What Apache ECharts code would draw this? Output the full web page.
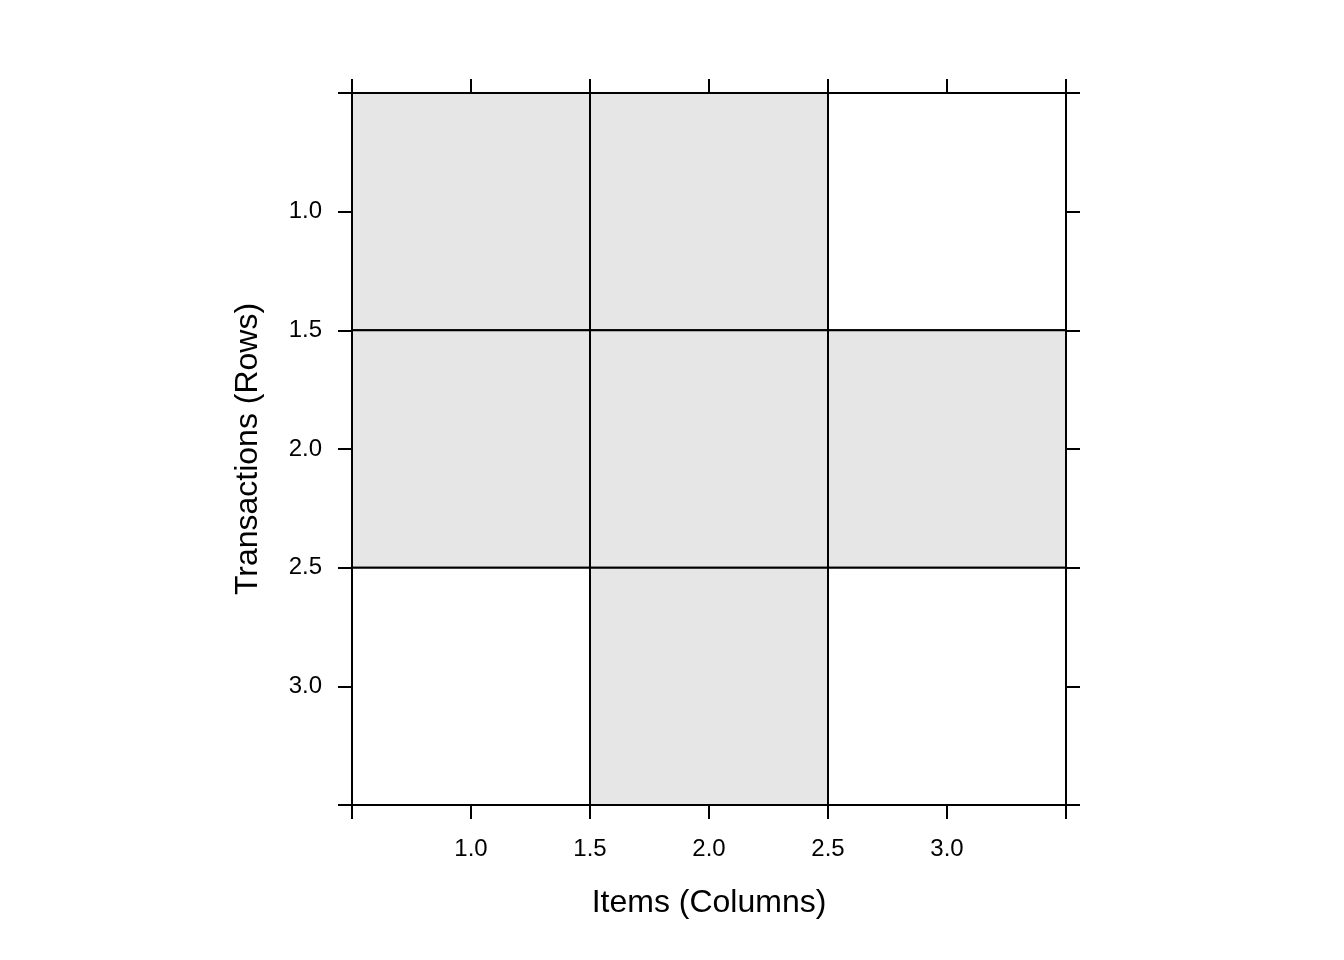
<!DOCTYPE html>
<html>
<head>
<meta charset="utf-8">
<script src="https://cdn.jsdelivr.net/npm/echarts@6/dist/echarts.min.js"></script>
<style>html,body{margin:0;padding:0;background:#fff}#c{width:1344px;height:960px}</style>
</head>
<body>
<div id="c"></div>
<script>
// Data
const items = [1, 2, 3];          // columns
const transactions = [1, 2, 3];   // rows
const matrix = [
  [1, 1, 0],
  [1, 1, 1],
  [0, 1, 0]
];
const tickLabels = ['1.0', '1.5', '2.0', '2.5', '3.0'];
const xTitle = 'Items (Columns)';
const yTitle = 'Transactions (Rows)';

const cells = [];
transactions.forEach((r, i) => {
  items.forEach((c, j) => {
    cells.push([c, r, matrix[i][j]]);
  });
});

const FONT = 'Liberation Sans, Arial, sans-serif';
const fmt = v => {
  const s = Number(v).toFixed(1);
  return tickLabels.indexOf(s) >= 0 ? s : '';
};
const lineStyle = { color: '#000', width: 2 };
function axis(extra) {
  return Object.assign({
    type: 'value', min: 0.5, max: 3.5, interval: 0.5,
    axisLine: { show: true, onZero: false, lineStyle },
    axisTick: { show: true, inside: false, length: 14, lineStyle },
    splitLine: { show: false },
    axisLabel: { show: false }
  }, extra);
}

const chart = echarts.init(document.getElementById('c'), null, { renderer: 'canvas' });
chart.setOption({
  backgroundColor: '#fff',
  animation: false,
  grid: { left: 352, right: 278, top: 93, bottom: 155, containLabel: false },
  xAxis: [
    axis({
      position: 'bottom',
      name: xTitle, nameLocation: 'middle', nameGap: 82,
      nameTextStyle: { color: '#000', fontSize: 32, fontFamily: FONT },
      axisLabel: { show: true, formatter: fmt, margin: 32, color: '#000', fontSize: 24, fontFamily: FONT }
    }),
    axis({ position: 'top' })
  ],
  yAxis: [
    axis({
      position: 'left', inverse: true,
      name: yTitle, nameLocation: 'middle', nameGap: 88,
      nameTextStyle: { color: '#000', fontSize: 32, fontFamily: FONT },
      axisLabel: { show: true, formatter: fmt, margin: 30, padding: [4, 0, 0, 0], color: '#000', fontSize: 24, fontFamily: FONT }
    }),
    axis({ position: 'right', inverse: true })
  ],
  series: [{
    type: 'custom',
    xAxisIndex: 0, yAxisIndex: 0,
    data: cells,
    renderItem: function (params, api) {
      const x = api.value(0), y = api.value(1), v = api.value(2);
      const p1 = api.coord([x - 0.5, y - 0.5]);
      const p2 = api.coord([x + 0.5, y + 0.5]);
      return {
        type: 'rect',
        shape: {
          x: Math.min(p1[0], p2[0]), y: Math.min(p1[1], p2[1]),
          width: Math.abs(p2[0] - p1[0]), height: Math.abs(p2[1] - p1[1])
        },
        style: { fill: v ? '#e6e6e6' : '#ffffff', stroke: '#000', lineWidth: 2 }
      };
    }
  }]
});
</script>
</body>
</html>
